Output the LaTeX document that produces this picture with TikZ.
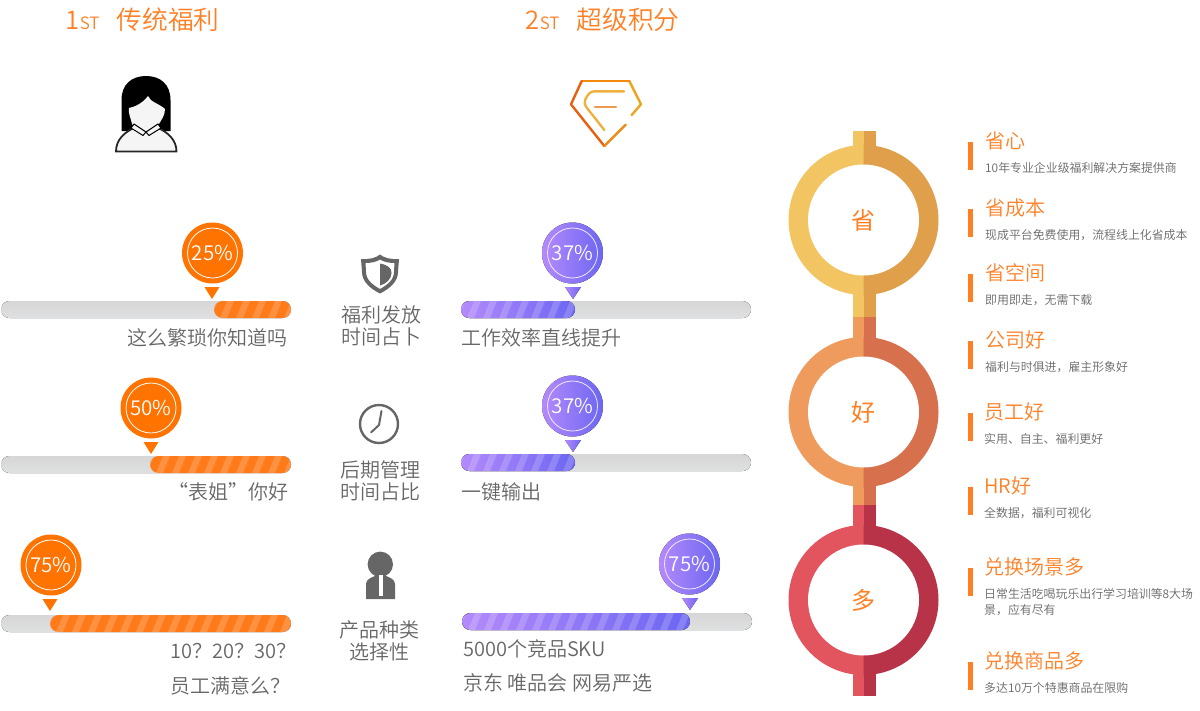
\documentclass[tikz,border=0pt]{standalone}
\usepackage{fontspec}
\setmainfont{Noto Sans CJK SC}[UprightFont=* DemiLight]
\newfontfamily\ringfont{Noto Sans CJK SC}
\usepackage{xcolor}
\definecolor{orangetxt}{HTML}{FF7F24}
\definecolor{graytxt}{HTML}{666666}
\definecolor{pinorange}{HTML}{FF7300}
\definecolor{barorange}{HTML}{FF7A18}
\definecolor{purpleL}{HTML}{B48AFB}
\definecolor{purpleR}{HTML}{6C66F2}
\definecolor{bargrayT}{HTML}{D6D6D6}
\definecolor{bargrayB}{HTML}{DFE0E1}
\definecolor{yellowL}{HTML}{F3C562}
\definecolor{yellowR}{HTML}{E0A04B}
\definecolor{peachL}{HTML}{EF9B5E}
\definecolor{peachR}{HTML}{D7704C}
\definecolor{redL}{HTML}{E2555F}
\definecolor{redR}{HTML}{B83248}
\definecolor{diaA}{HTML}{EDA520}
\definecolor{diaB}{HTML}{F38A10}
\definecolor{diaC}{HTML}{E8600F}
\definecolor{diaD}{HTML}{EC8C18}
\definecolor{diaE}{HTML}{F0B040}
\definecolor{diaF}{HTML}{EE9A50}
\tikzset{
    headtxt/.style={anchor=west,inner sep=0pt,text=orangetxt,font=\fontsize{25.7}{30}\selectfont},
    itemtxt/.style={anchor=west,inner sep=0pt,text=orangetxt,font=\fontsize{20}{24}\selectfont},
    subtxt/.style={anchor=north west,inner sep=0pt,text=graytxt,font=\fontsize{11.9}{16}\selectfont,align=left},
    lefttxt/.style={anchor=east,inner sep=0pt,text=graytxt,font=\fontsize{20}{24}\selectfont},
    righttxt/.style={anchor=west,inner sep=0pt,text=graytxt,font=\fontsize{20}{24}\selectfont},
    midtxt/.style={inner sep=0pt,text=graytxt,align=center,font=\fontsize{20}{22}\selectfont},
    ringtxt/.style={inner sep=0pt,text=orangetxt,font=\ringfont\fontsize{24}{28}\selectfont},
    pintxt/.style={inner sep=0pt,text=white,font=\fontsize{20.5}{24}\selectfont}
}
% y-top, left end, right end
\newcommand{\graybar}[3]{\fill[top color=bargrayT,bottom color=bargrayB,rounded corners=8.5pt] (#2,#1) rectangle (#3,#1+17);}
\newcommand{\stripes}[3]{%
    \begin{scope}
        \clip[rounded corners=8.5pt] (#2,#1) rectangle (#3,#1+17);
        \pgfmathsetmacro{\sxstart}{#2-16}
        \foreach \sx in {\sxstart,#2,...,#3}
            \fill[white,opacity=0.18] (\sx+6,#1+17)--(\sx+13,#1)--(\sx+20,#1)--(\sx+13,#1+17)--cycle;
    \end{scope}}
\newcommand{\orangepin}[5]{%
    \fill[pinorange] (#1,#2) circle[radius=30.5pt];
    \draw[white,line width=0.8pt] (#1,#2) circle[radius=25pt];
    \node[pintxt] (#4) at (#1,#2) {#3};
    \fill[pinorange] (#5-7.5,#2+34) -- (#5+7.5,#2+34) -- (#5,#2+46) -- cycle;}
\newcommand{\purplepin}[5]{%
    \fill[left color=purpleL,right color=purpleR] (#1,#2) circle[radius=30.5pt];
    \draw[white,line width=0.8pt,opacity=0.85] (#1,#2) circle[radius=25pt];
    \node[pintxt] (#4) at (#1,#2) {#3};
    \fill[left color=purpleL,right color=purpleR] (#5-8,#2+34) -- (#5+8,#2+34) -- (#5,#2+46) -- cycle;}
\newcommand{\ringpart}[6]{%
    \fill[#5] (853,#3) rectangle (864,#4);
    \fill[#6] (864,#3) rectangle (876,#4);
    \fill[#5] (863.5,#1-75) arc[start angle=90,end angle=270,radius=75pt] -- cycle;
    \fill[#6] (863.5,#1-75) arc[start angle=90,end angle=-90,radius=75pt] -- cycle;
    \fill[white] (863.5,#1) circle[radius=55.5pt];
    \node[ringtxt] (ring#2) at (863.5,#1) {#2};}
\newcommand{\listitem}[5]{%
    \fill[orangetxt] (968,#1) rectangle (973,#1+28);
    \node[itemtxt] (#5head) at (#2,#1-1) {#3};
    \node[subtxt] (#5sub) at (#2,#1+20) {#4};}

\begin{document}
\begin{tikzpicture}[x=1pt,y=-1pt]
    \useasboundingbox (0,0) rectangle (1200,710);

    % headings
    \node[headtxt] (headA) at (65.5,20) {1\fontsize{17}{18}\selectfont ST};
    \node[headtxt] (titleA) at (116.5,20) {传统福利};
    \node[headtxt] (headB) at (525.5,20) {2\fontsize{17}{18}\selectfont ST};
    \node[headtxt] (titleB) at (576.5,20) {超级积分};

    % woman icon
    \fill[black] (121.5,131) -- (121.5,100) .. controls (121.5,84) and (132,76) .. (146,76)
        .. controls (160,76) and (170.5,84) .. (170.5,100) -- (170.5,131) -- cycle;
    \fill[black!4,draw=black!85,line width=1.8pt] (116,151.5) .. controls (116,140) and (124,132) .. (136,127)
        -- (156,127) .. controls (168,132) and (176.5,140) .. (176.5,151.5) -- cycle;
    \fill[black!4] (129,108) .. controls (134,107) and (142,104) .. (148,96)
        .. controls (150,102) and (160,104) .. (165,109) .. controls (165,116) and (161,120) .. (159,124)
        -- (153,131) -- (146,135) -- (139,131) -- (132,124) .. controls (131,118) and (128,114) .. (129,108) -- cycle;
    \draw[black,line width=1pt,fill=black!4] (134,124) -- (146,132) -- (143,135.5) -- (131,128) -- cycle;
    \draw[black,line width=1pt,fill=black!4] (158,124) -- (146,132) -- (149,135.5) -- (161,128) -- cycle;

    % diamond icon
    \begin{scope}[line width=2.4pt,line cap=round,line join=round]
        \draw[diaA] (631.7,115) -- (641,104.3) -- (629.3,81);
        \draw[diaB] (629.3,81) -- (581.7,81);
        \draw[diaC] (581.7,81) -- (571,104.3) -- (604.3,146);
        \draw[diaD] (604.3,146) -- (625.7,124.7);
        \draw[diaE] (624,91.3) -- (595,91.3) .. controls (590,91.3) and (588,94) .. (585,100) .. controls (584,103) and (585,105) .. (587,108) -- (604.3,130);
        \draw[diaF] (595,106.7) -- (616,106.7);
    \end{scope}

    % left bars
    \graybar{301}{1}{291}
    \fill[barorange,rounded corners=8.5pt] (214,301) rectangle (291,318);
    \stripes{301}{214}{291}
    \orangepin{212.5}{253}{25\%}{pinA}{212}
    \node[lefttxt] (txtA) at (288,338) {这么繁琐你知道吗};

    \graybar{456}{1}{291}
    \fill[barorange,rounded corners=8.5pt] (150,456) rectangle (291,473);
    \stripes{456}{150}{291}
    \orangepin{151}{408}{50\%}{pinB}{151}
    \node[lefttxt] (txtB) at (289,492) {“表姐”你好};

    \graybar{615}{1}{291}
    \fill[barorange,rounded corners=8.5pt] (50,615) rectangle (291,632);
    \stripes{615}{50}{291}
    \orangepin{51}{565}{75\%}{pinC}{50}
    \node[lefttxt] (txtC) at (297,651) {10？20？30？};
    \node[lefttxt] (txtD) at (291,686) {员工满意么？};

    % middle column
    \fill[graytxt,even odd rule] (380,254.5) .. controls (376,258) and (369,259.5) .. (361,259) -- (362,272)
        .. controls (362,282) and (371,289) .. (380,293.5) .. controls (389,289) and (398,282) .. (398,272)
        -- (399,259) .. controls (391,259.5) and (384,258) .. (380,254.5) -- cycle
        (380,259.5) .. controls (376,262) and (371,263) .. (365.5,263) -- (366,272)
        .. controls (366,280) and (373,285) .. (380,289) .. controls (387,285) and (394,280) .. (394,272)
        -- (394.5,263) .. controls (389,263) and (384,262) .. (380,259.5) -- cycle;
    \fill[graytxt] (380,263.5) .. controls (388,265) and (391.5,268) .. (391.5,273) .. controls (391.5,279) and (386,284) .. (380,285.5) -- cycle;
    \node[midtxt] (midA) at (381,326) {福利发放\\时间占卜};

    \draw[graytxt,line width=2.4pt] (379,424) circle[radius=19pt];
    \draw[graytxt,line width=2pt,line cap=round,line join=round] (381.5,411) -- (379,425) -- (371,432.5);
    \node[midtxt] (midB) at (380,481) {后期管理\\时间占比};

    \fill[graytxt] (380.3,564.3) circle[radius=12.7pt];
    \fill[graytxt] (366,599) -- (366,584) .. controls (366,579) and (372,577) .. (378,575) -- (383,575)
        .. controls (389,577) and (395,579) .. (395,584) -- (395,599) -- cycle;
    \fill[white] (378.5,575) -- (382.5,575) -- (382.5,596) -- (378.5,596) -- cycle;
    \node[midtxt] (midC) at (379,641) {产品种类\\选择性};

    % right bars
    \graybar{301}{461}{751}
    \fill[left color=purpleL,right color=purpleR,rounded corners=8.5pt] (461,301) rectangle (575,318);
    \stripes{301}{461}{575}
    \purplepin{572.5}{253}{37\%}{pinD}{573}
    \node[righttxt] (txtE) at (461,338) {工作效率直线提升};

    \graybar{454}{461}{751}
    \fill[left color=purpleL,right color=purpleR,rounded corners=8.5pt] (461,454) rectangle (575,471);
    \stripes{454}{461}{575}
    \purplepin{572.5}{406}{37\%}{pinE}{573}
    \node[righttxt] (txtF) at (461,492) {一键输出};

    \graybar{613}{462}{752}
    \fill[left color=purpleL,right color=purpleR,rounded corners=8.5pt] (462,613) rectangle (690,630);
    \stripes{613}{462}{690}
    \purplepin{689.5}{564}{75\%}{pinF}{690}
    \node[righttxt] (txtG) at (463,649) {5000个竞品SKU};
    \node[righttxt] (txtH) at (463,683) {京东 唯品会 网易严选};

    % rings
    \ringpart{220}{省}{131}{317}{yellowL}{yellowR}
    \ringpart{412}{好}{317}{505}{peachL}{peachR}
    \ringpart{600}{多}{505}{696}{redL}{redR}

    % list at the right
    \listitem{142}{985}{省心}{10年专业企业级福利解决方案提供商}{itemA}
    \listitem{209}{985}{省成本}{现成平台免费使用，流程线上化省成本}{itemB}
    \listitem{274}{985}{省空间}{即用即走，无需下载}{itemC}
    \listitem{341}{985}{公司好}{福利与时俱进，雇主形象好}{itemD}
    \listitem{413}{984}{员工好}{实用、自主、福利更好}{itemE}
    \listitem{487}{984}{HR好}{全数据，福利可视化}{itemF}
    \listitem{568}{984}{兑换场景多}{日常生活吃喝玩乐出行学习培训等8大场\\景，应有尽有}{itemG}
    \listitem{662}{984}{兑换商品多}{多达10万个特惠商品在限购}{itemH}
\end{tikzpicture}
\end{document}
